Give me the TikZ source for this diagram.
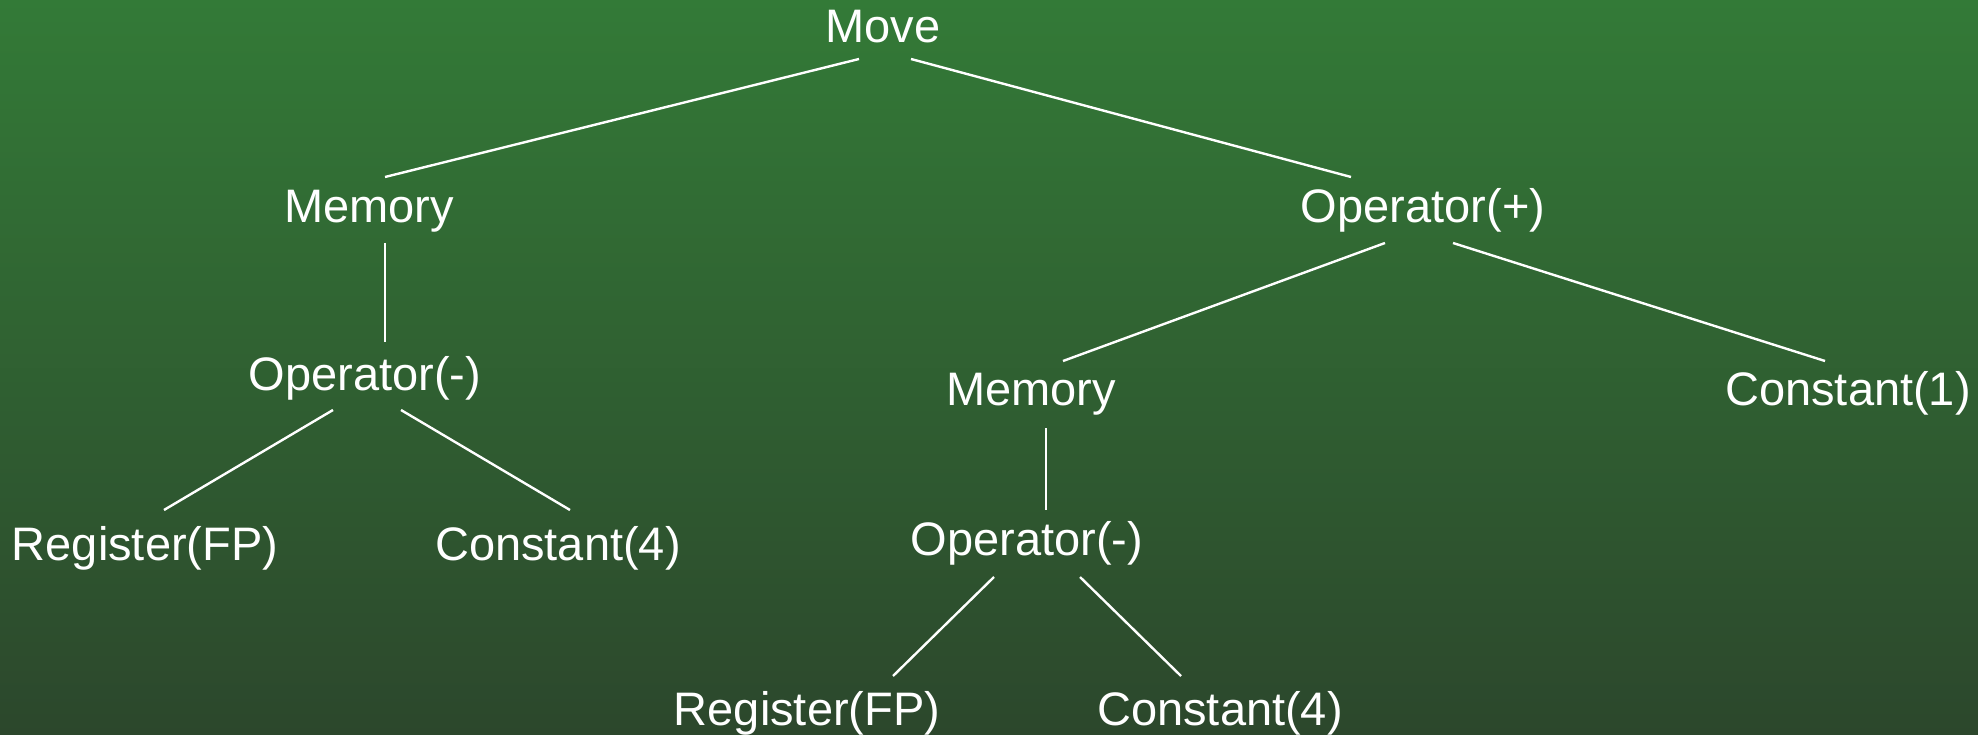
\documentclass[tikz,border=0pt]{standalone}
\usepackage{fontspec}
\setmainfont{Liberation Sans}
\usetikzlibrary{calc}
\definecolor{bgtop}{RGB}{51,122,55}
\definecolor{bgbot}{RGB}{44,71,44}
\begin{document}
\begin{tikzpicture}[x=1pt,y=-1pt,
  lbl/.style={text=white, inner sep=0pt, anchor=base, font=\fontsize{47}{51}\selectfont},
  edge/.style={draw=white, line width=2.4pt}]
\fill[top color=bgtop, bottom color=bgbot] (0,0) rectangle (1978,735);
\useasboundingbox (0,0) rectangle (1978,735);
% nodes
\node[lbl] (move) at (883,43) {Move};
\node[lbl] (memL) at (369,223) {Memory};
\node[lbl] (opP)  at (1423,223) {Operator(+)};
\node[lbl] (opL)  at (365,390) {Operator(-)};
\node[lbl] (memR) at (1031,405) {Memory};
\node[lbl] (con1) at (1848,405) {Constant(1)};
\node[lbl] (regL) at (145,560) {Register(FP)};
\node[lbl] (conL) at (558,560) {Constant(4)};
\node[lbl] (opR)  at (1027,555) {Operator(-)};
\node[lbl] (regR) at (807,725) {Register(FP)};
\node[lbl] (conR) at (1220,725) {Constant(4)};
% connectors
\draw[edge] ($(move.base)+(-24,16)$) -- ($(memL.base)+(16,-46)$);
\draw[edge] ($(move.base)+(28,16)$) -- ($(opP.base)+(-72,-46)$);
\draw[edge] ($(memL.base)+(16,20)$) -- ($(opL.base)+(20,-48)$);
\draw[edge] ($(opL.base)+(-32,20)$) -- ($(regL.base)+(19,-50)$);
\draw[edge] ($(opL.base)+(36,20)$) -- ($(conL.base)+(12,-50)$);
\draw[edge] ($(opP.base)+(-38,20)$) -- ($(memR.base)+(32,-44)$);
\draw[edge] ($(opP.base)+(30,20)$) -- ($(con1.base)+(-23,-44)$);
\draw[edge] ($(memR.base)+(15,23)$) -- ($(opR.base)+(19,-45)$);
\draw[edge] ($(opR.base)+(-33,22)$) -- ($(regR.base)+(86,-49)$);
\draw[edge] ($(opR.base)+(53,22)$) -- ($(conR.base)+(-39,-49)$);
\end{tikzpicture}
\end{document}
